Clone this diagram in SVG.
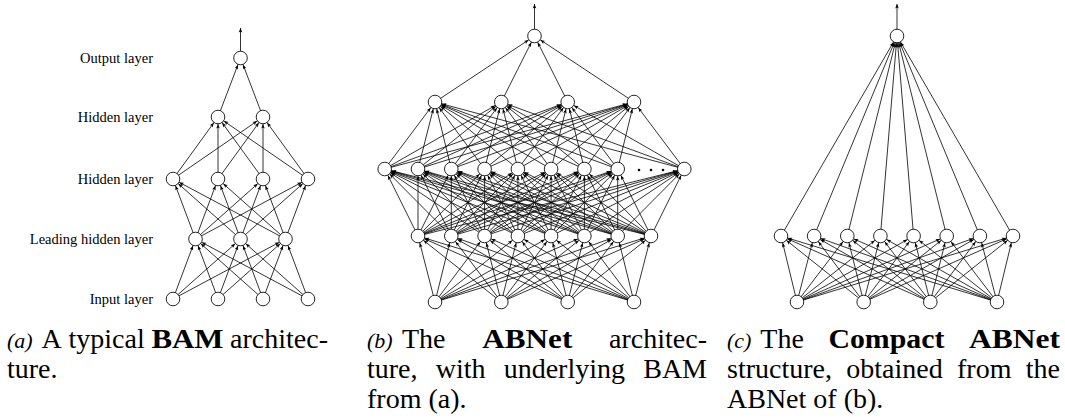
<svg xmlns="http://www.w3.org/2000/svg" width="1065" height="419" viewBox="0 0 1065 419">
<defs>
<style>
.n{fill:#fff;stroke:#000;stroke-width:0.85}
.e line{stroke:#000;stroke-width:0.8}
.lbl{font-family:"Liberation Serif",serif;font-size:14.5px;text-anchor:end;fill:#000}
.cap{font-family:"Liberation Serif",serif;font-size:28px;fill:#000}
.it{font-style:italic;font-size:22px}
.b{font-weight:bold}
.dot{fill:#000}
</style>
<marker id="ah" markerUnits="userSpaceOnUse" markerWidth="20" markerHeight="20" viewBox="-20 -10 20 20" refX="0" refY="0" orient="auto" overflow="visible">
<path d="M-7.2,0 L-11.6,-1.8 L-10.6,0 L-11.6,1.8 z" fill="#000"/>
</marker>
<marker id="tip" markerUnits="userSpaceOnUse" markerWidth="10" markerHeight="10" viewBox="-10 -5 10 10" refX="0" refY="0" orient="auto" overflow="visible">
<path d="M0,0 L-4.4,-1.8 L-3.4,0 L-4.4,1.8 z" fill="#000"/>
</marker>
</defs>
<rect width="1065" height="419" fill="#fff"/>

<g id="connectors" class="e" marker-end="url(#ah)">
<!-- panel a -->
<line x1="240.5" y1="58" x2="240.5" y2="28" marker-end="url(#tip)"/>
<line x1="218" y1="117" x2="240.5" y2="58"/>
<line x1="263" y1="117" x2="240.5" y2="58"/>
<line x1="173" y1="179" x2="218" y2="117"/>
<line x1="173" y1="179" x2="263" y2="117"/>
<line x1="218" y1="179" x2="218" y2="117"/>
<line x1="218" y1="179" x2="263" y2="117"/>
<line x1="263" y1="179" x2="218" y2="117"/>
<line x1="263" y1="179" x2="263" y2="117"/>
<line x1="308" y1="179" x2="218" y2="117"/>
<line x1="308" y1="179" x2="263" y2="117"/>
<line x1="195.5" y1="239" x2="173" y2="179"/>
<line x1="195.5" y1="239" x2="218" y2="179"/>
<line x1="195.5" y1="239" x2="263" y2="179"/>
<line x1="195.5" y1="239" x2="308" y2="179"/>
<line x1="240.5" y1="239" x2="173" y2="179"/>
<line x1="240.5" y1="239" x2="218" y2="179"/>
<line x1="240.5" y1="239" x2="263" y2="179"/>
<line x1="240.5" y1="239" x2="308" y2="179"/>
<line x1="285.5" y1="239" x2="173" y2="179"/>
<line x1="285.5" y1="239" x2="218" y2="179"/>
<line x1="285.5" y1="239" x2="263" y2="179"/>
<line x1="285.5" y1="239" x2="308" y2="179"/>
<line x1="173" y1="299" x2="195.5" y2="239"/>
<line x1="173" y1="299" x2="240.5" y2="239"/>
<line x1="173" y1="299" x2="285.5" y2="239"/>
<line x1="218" y1="299" x2="195.5" y2="239"/>
<line x1="218" y1="299" x2="240.5" y2="239"/>
<line x1="218" y1="299" x2="285.5" y2="239"/>
<line x1="263" y1="299" x2="195.5" y2="239"/>
<line x1="263" y1="299" x2="240.5" y2="239"/>
<line x1="263" y1="299" x2="285.5" y2="239"/>
<line x1="308" y1="299" x2="195.5" y2="239"/>
<line x1="308" y1="299" x2="240.5" y2="239"/>
<line x1="308" y1="299" x2="285.5" y2="239"/>
<!-- panel b -->
<line x1="534.5" y1="36" x2="534.5" y2="4" marker-end="url(#tip)"/>
<line x1="435" y1="102" x2="534.5" y2="36"/>
<line x1="501.3" y1="102" x2="534.5" y2="36"/>
<line x1="567.7" y1="102" x2="534.5" y2="36"/>
<line x1="634" y1="102" x2="534.5" y2="36"/>
<!-- L3 to L4 -->
<line x1="384.7" y1="169" x2="435" y2="102"/>
<line x1="384.7" y1="169" x2="501.3" y2="102"/>
<line x1="384.7" y1="169" x2="567.7" y2="102"/>
<line x1="384.7" y1="169" x2="634" y2="102"/>
<line x1="418" y1="169" x2="435" y2="102"/>
<line x1="418" y1="169" x2="501.3" y2="102"/>
<line x1="418" y1="169" x2="567.7" y2="102"/>
<line x1="418" y1="169" x2="634" y2="102"/>
<line x1="451.3" y1="169" x2="435" y2="102"/>
<line x1="451.3" y1="169" x2="501.3" y2="102"/>
<line x1="451.3" y1="169" x2="567.7" y2="102"/>
<line x1="451.3" y1="169" x2="634" y2="102"/>
<line x1="484.6" y1="169" x2="435" y2="102"/>
<line x1="484.6" y1="169" x2="501.3" y2="102"/>
<line x1="484.6" y1="169" x2="567.7" y2="102"/>
<line x1="484.6" y1="169" x2="634" y2="102"/>
<line x1="517.9" y1="169" x2="435" y2="102"/>
<line x1="517.9" y1="169" x2="501.3" y2="102"/>
<line x1="517.9" y1="169" x2="567.7" y2="102"/>
<line x1="517.9" y1="169" x2="634" y2="102"/>
<line x1="551.1" y1="169" x2="435" y2="102"/>
<line x1="551.1" y1="169" x2="501.3" y2="102"/>
<line x1="551.1" y1="169" x2="567.7" y2="102"/>
<line x1="551.1" y1="169" x2="634" y2="102"/>
<line x1="584.4" y1="169" x2="435" y2="102"/>
<line x1="584.4" y1="169" x2="501.3" y2="102"/>
<line x1="584.4" y1="169" x2="567.7" y2="102"/>
<line x1="584.4" y1="169" x2="634" y2="102"/>
<line x1="617.7" y1="169" x2="435" y2="102"/>
<line x1="617.7" y1="169" x2="501.3" y2="102"/>
<line x1="617.7" y1="169" x2="567.7" y2="102"/>
<line x1="617.7" y1="169" x2="634" y2="102"/>
<line x1="684.3" y1="169" x2="435" y2="102"/>
<line x1="684.3" y1="169" x2="501.3" y2="102"/>
<line x1="684.3" y1="169" x2="567.7" y2="102"/>
<line x1="684.3" y1="169" x2="634" y2="102"/>
<!-- L2 to L3 -->
<line x1="418" y1="236" x2="384.7" y2="169"/>
<line x1="418" y1="236" x2="418" y2="169"/>
<line x1="418" y1="236" x2="451.3" y2="169"/>
<line x1="418" y1="236" x2="484.6" y2="169"/>
<line x1="418" y1="236" x2="517.9" y2="169"/>
<line x1="418" y1="236" x2="551.1" y2="169"/>
<line x1="418" y1="236" x2="584.4" y2="169"/>
<line x1="418" y1="236" x2="617.7" y2="169"/>
<line x1="418" y1="236" x2="684.3" y2="169"/>
<line x1="451.3" y1="236" x2="384.7" y2="169"/>
<line x1="451.3" y1="236" x2="418" y2="169"/>
<line x1="451.3" y1="236" x2="451.3" y2="169"/>
<line x1="451.3" y1="236" x2="484.6" y2="169"/>
<line x1="451.3" y1="236" x2="517.9" y2="169"/>
<line x1="451.3" y1="236" x2="551.1" y2="169"/>
<line x1="451.3" y1="236" x2="584.4" y2="169"/>
<line x1="451.3" y1="236" x2="617.7" y2="169"/>
<line x1="451.3" y1="236" x2="684.3" y2="169"/>
<line x1="484.6" y1="236" x2="384.7" y2="169"/>
<line x1="484.6" y1="236" x2="418" y2="169"/>
<line x1="484.6" y1="236" x2="451.3" y2="169"/>
<line x1="484.6" y1="236" x2="484.6" y2="169"/>
<line x1="484.6" y1="236" x2="517.9" y2="169"/>
<line x1="484.6" y1="236" x2="551.1" y2="169"/>
<line x1="484.6" y1="236" x2="584.4" y2="169"/>
<line x1="484.6" y1="236" x2="617.7" y2="169"/>
<line x1="484.6" y1="236" x2="684.3" y2="169"/>
<line x1="517.9" y1="236" x2="384.7" y2="169"/>
<line x1="517.9" y1="236" x2="418" y2="169"/>
<line x1="517.9" y1="236" x2="451.3" y2="169"/>
<line x1="517.9" y1="236" x2="484.6" y2="169"/>
<line x1="517.9" y1="236" x2="517.9" y2="169"/>
<line x1="517.9" y1="236" x2="551.1" y2="169"/>
<line x1="517.9" y1="236" x2="584.4" y2="169"/>
<line x1="517.9" y1="236" x2="617.7" y2="169"/>
<line x1="517.9" y1="236" x2="684.3" y2="169"/>
<line x1="551.1" y1="236" x2="384.7" y2="169"/>
<line x1="551.1" y1="236" x2="418" y2="169"/>
<line x1="551.1" y1="236" x2="451.3" y2="169"/>
<line x1="551.1" y1="236" x2="484.6" y2="169"/>
<line x1="551.1" y1="236" x2="517.9" y2="169"/>
<line x1="551.1" y1="236" x2="551.1" y2="169"/>
<line x1="551.1" y1="236" x2="584.4" y2="169"/>
<line x1="551.1" y1="236" x2="617.7" y2="169"/>
<line x1="551.1" y1="236" x2="684.3" y2="169"/>
<line x1="584.4" y1="236" x2="384.7" y2="169"/>
<line x1="584.4" y1="236" x2="418" y2="169"/>
<line x1="584.4" y1="236" x2="451.3" y2="169"/>
<line x1="584.4" y1="236" x2="484.6" y2="169"/>
<line x1="584.4" y1="236" x2="517.9" y2="169"/>
<line x1="584.4" y1="236" x2="551.1" y2="169"/>
<line x1="584.4" y1="236" x2="584.4" y2="169"/>
<line x1="584.4" y1="236" x2="617.7" y2="169"/>
<line x1="584.4" y1="236" x2="684.3" y2="169"/>
<line x1="617.7" y1="236" x2="384.7" y2="169"/>
<line x1="617.7" y1="236" x2="418" y2="169"/>
<line x1="617.7" y1="236" x2="451.3" y2="169"/>
<line x1="617.7" y1="236" x2="484.6" y2="169"/>
<line x1="617.7" y1="236" x2="517.9" y2="169"/>
<line x1="617.7" y1="236" x2="551.1" y2="169"/>
<line x1="617.7" y1="236" x2="584.4" y2="169"/>
<line x1="617.7" y1="236" x2="617.7" y2="169"/>
<line x1="617.7" y1="236" x2="684.3" y2="169"/>
<line x1="651" y1="236" x2="384.7" y2="169"/>
<line x1="651" y1="236" x2="418" y2="169"/>
<line x1="651" y1="236" x2="451.3" y2="169"/>
<line x1="651" y1="236" x2="484.6" y2="169"/>
<line x1="651" y1="236" x2="517.9" y2="169"/>
<line x1="651" y1="236" x2="551.1" y2="169"/>
<line x1="651" y1="236" x2="584.4" y2="169"/>
<line x1="651" y1="236" x2="617.7" y2="169"/>
<line x1="651" y1="236" x2="684.3" y2="169"/>
<!-- In to L2 (b) -->
<line x1="435" y1="302" x2="418" y2="236"/>
<line x1="435" y1="302" x2="451.3" y2="236"/>
<line x1="435" y1="302" x2="484.6" y2="236"/>
<line x1="435" y1="302" x2="517.9" y2="236"/>
<line x1="435" y1="302" x2="551.1" y2="236"/>
<line x1="435" y1="302" x2="584.4" y2="236"/>
<line x1="435" y1="302" x2="617.7" y2="236"/>
<line x1="435" y1="302" x2="651" y2="236"/>
<line x1="501.3" y1="302" x2="418" y2="236"/>
<line x1="501.3" y1="302" x2="451.3" y2="236"/>
<line x1="501.3" y1="302" x2="484.6" y2="236"/>
<line x1="501.3" y1="302" x2="517.9" y2="236"/>
<line x1="501.3" y1="302" x2="551.1" y2="236"/>
<line x1="501.3" y1="302" x2="584.4" y2="236"/>
<line x1="501.3" y1="302" x2="617.7" y2="236"/>
<line x1="501.3" y1="302" x2="651" y2="236"/>
<line x1="567.7" y1="302" x2="418" y2="236"/>
<line x1="567.7" y1="302" x2="451.3" y2="236"/>
<line x1="567.7" y1="302" x2="484.6" y2="236"/>
<line x1="567.7" y1="302" x2="517.9" y2="236"/>
<line x1="567.7" y1="302" x2="551.1" y2="236"/>
<line x1="567.7" y1="302" x2="584.4" y2="236"/>
<line x1="567.7" y1="302" x2="617.7" y2="236"/>
<line x1="567.7" y1="302" x2="651" y2="236"/>
<line x1="634" y1="302" x2="418" y2="236"/>
<line x1="634" y1="302" x2="451.3" y2="236"/>
<line x1="634" y1="302" x2="484.6" y2="236"/>
<line x1="634" y1="302" x2="517.9" y2="236"/>
<line x1="634" y1="302" x2="551.1" y2="236"/>
<line x1="634" y1="302" x2="584.4" y2="236"/>
<line x1="634" y1="302" x2="617.7" y2="236"/>
<line x1="634" y1="302" x2="651" y2="236"/>
<!-- panel c -->
<line x1="897" y1="36" x2="897" y2="4" marker-end="url(#tip)"/>
<line x1="781" y1="236" x2="897" y2="36"/>
<line x1="814.1" y1="236" x2="897" y2="36"/>
<line x1="847.3" y1="236" x2="897" y2="36"/>
<line x1="880.4" y1="236" x2="897" y2="36"/>
<line x1="913.6" y1="236" x2="897" y2="36"/>
<line x1="946.7" y1="236" x2="897" y2="36"/>
<line x1="979.9" y1="236" x2="897" y2="36"/>
<line x1="1013" y1="236" x2="897" y2="36"/>
<line x1="797" y1="302" x2="781" y2="236"/>
<line x1="797" y1="302" x2="814.1" y2="236"/>
<line x1="797" y1="302" x2="847.3" y2="236"/>
<line x1="797" y1="302" x2="880.4" y2="236"/>
<line x1="797" y1="302" x2="913.6" y2="236"/>
<line x1="797" y1="302" x2="946.7" y2="236"/>
<line x1="797" y1="302" x2="979.9" y2="236"/>
<line x1="797" y1="302" x2="1013" y2="236"/>
<line x1="863.7" y1="302" x2="781" y2="236"/>
<line x1="863.7" y1="302" x2="814.1" y2="236"/>
<line x1="863.7" y1="302" x2="847.3" y2="236"/>
<line x1="863.7" y1="302" x2="880.4" y2="236"/>
<line x1="863.7" y1="302" x2="913.6" y2="236"/>
<line x1="863.7" y1="302" x2="946.7" y2="236"/>
<line x1="863.7" y1="302" x2="979.9" y2="236"/>
<line x1="863.7" y1="302" x2="1013" y2="236"/>
<line x1="930.3" y1="302" x2="781" y2="236"/>
<line x1="930.3" y1="302" x2="814.1" y2="236"/>
<line x1="930.3" y1="302" x2="847.3" y2="236"/>
<line x1="930.3" y1="302" x2="880.4" y2="236"/>
<line x1="930.3" y1="302" x2="913.6" y2="236"/>
<line x1="930.3" y1="302" x2="946.7" y2="236"/>
<line x1="930.3" y1="302" x2="979.9" y2="236"/>
<line x1="930.3" y1="302" x2="1013" y2="236"/>
<line x1="997" y1="302" x2="781" y2="236"/>
<line x1="997" y1="302" x2="814.1" y2="236"/>
<line x1="997" y1="302" x2="847.3" y2="236"/>
<line x1="997" y1="302" x2="880.4" y2="236"/>
<line x1="997" y1="302" x2="913.6" y2="236"/>
<line x1="997" y1="302" x2="946.7" y2="236"/>
<line x1="997" y1="302" x2="979.9" y2="236"/>
<line x1="997" y1="302" x2="1013" y2="236"/>
</g>

<!-- panel a nodes -->
<g id="a-out"><circle class="n" cx="240.5" cy="58" r="6.8"/></g>
<g id="a-h1-1"><circle class="n" cx="218" cy="117" r="6.8"/></g>
<g id="a-h1-2"><circle class="n" cx="263" cy="117" r="6.8"/></g>
<g id="a-h2-1"><circle class="n" cx="173" cy="179" r="6.8"/></g>
<g id="a-h2-2"><circle class="n" cx="218" cy="179" r="6.8"/></g>
<g id="a-h2-3"><circle class="n" cx="263" cy="179" r="6.8"/></g>
<g id="a-h2-4"><circle class="n" cx="308" cy="179" r="6.8"/></g>
<g id="a-lh-1"><circle class="n" cx="195.5" cy="239" r="6.8"/></g>
<g id="a-lh-2"><circle class="n" cx="240.5" cy="239" r="6.8"/></g>
<g id="a-lh-3"><circle class="n" cx="285.5" cy="239" r="6.8"/></g>
<g id="a-in-1"><circle class="n" cx="173" cy="299" r="6.8"/></g>
<g id="a-in-2"><circle class="n" cx="218" cy="299" r="6.8"/></g>
<g id="a-in-3"><circle class="n" cx="263" cy="299" r="6.8"/></g>
<g id="a-in-4"><circle class="n" cx="308" cy="299" r="6.8"/></g>
<g id="a-labels">
<text class="lbl" x="153" y="63">Output layer</text>
<text class="lbl" x="153" y="122">Hidden layer</text>
<text class="lbl" x="153" y="184">Hidden layer</text>
<text class="lbl" x="153" y="244">Leading hidden layer</text>
<text class="lbl" x="153" y="304">Input layer</text>
</g>

<!-- panel b nodes -->
<g id="b-out"><circle class="n" cx="534.5" cy="36" r="6.8"/></g>
<g id="b-l4-1"><circle class="n" cx="435" cy="102" r="6.8"/></g>
<g id="b-l4-2"><circle class="n" cx="501.3" cy="102" r="6.8"/></g>
<g id="b-l4-3"><circle class="n" cx="567.7" cy="102" r="6.8"/></g>
<g id="b-l4-4"><circle class="n" cx="634" cy="102" r="6.8"/></g>
<g id="b-l3-1"><circle class="n" cx="384.7" cy="169" r="6.8"/></g>
<g id="b-l3-2"><circle class="n" cx="418" cy="169" r="6.8"/></g>
<g id="b-l3-3"><circle class="n" cx="451.3" cy="169" r="6.8"/></g>
<g id="b-l3-4"><circle class="n" cx="484.6" cy="169" r="6.8"/></g>
<g id="b-l3-5"><circle class="n" cx="517.9" cy="169" r="6.8"/></g>
<g id="b-l3-6"><circle class="n" cx="551.1" cy="169" r="6.8"/></g>
<g id="b-l3-7"><circle class="n" cx="584.4" cy="169" r="6.8"/></g>
<g id="b-l3-8"><circle class="n" cx="617.7" cy="169" r="6.8"/></g>
<g id="b-l3-9"><circle class="n" cx="684.3" cy="169" r="6.8"/></g>
<g id="b-dots"><circle class="dot" cx="639" cy="170" r="1.3"/><circle class="dot" cx="651" cy="170" r="1.3"/><circle class="dot" cx="663" cy="170" r="1.3"/></g>
<g id="b-l2-1"><circle class="n" cx="418" cy="236" r="6.8"/></g>
<g id="b-l2-2"><circle class="n" cx="451.3" cy="236" r="6.8"/></g>
<g id="b-l2-3"><circle class="n" cx="484.6" cy="236" r="6.8"/></g>
<g id="b-l2-4"><circle class="n" cx="517.9" cy="236" r="6.8"/></g>
<g id="b-l2-5"><circle class="n" cx="551.1" cy="236" r="6.8"/></g>
<g id="b-l2-6"><circle class="n" cx="584.4" cy="236" r="6.8"/></g>
<g id="b-l2-7"><circle class="n" cx="617.7" cy="236" r="6.8"/></g>
<g id="b-l2-8"><circle class="n" cx="651" cy="236" r="6.8"/></g>
<g id="b-in-1"><circle class="n" cx="435" cy="302" r="6.8"/></g>
<g id="b-in-2"><circle class="n" cx="501.3" cy="302" r="6.8"/></g>
<g id="b-in-3"><circle class="n" cx="567.7" cy="302" r="6.8"/></g>
<g id="b-in-4"><circle class="n" cx="634" cy="302" r="6.8"/></g>

<!-- panel c nodes -->
<g id="c-out"><circle class="n" cx="897" cy="36" r="6.8"/></g>
<g id="c-l2-1"><circle class="n" cx="781" cy="236" r="6.8"/></g>
<g id="c-l2-2"><circle class="n" cx="814.1" cy="236" r="6.8"/></g>
<g id="c-l2-3"><circle class="n" cx="847.3" cy="236" r="6.8"/></g>
<g id="c-l2-4"><circle class="n" cx="880.4" cy="236" r="6.8"/></g>
<g id="c-l2-5"><circle class="n" cx="913.6" cy="236" r="6.8"/></g>
<g id="c-l2-6"><circle class="n" cx="946.7" cy="236" r="6.8"/></g>
<g id="c-l2-7"><circle class="n" cx="979.9" cy="236" r="6.8"/></g>
<g id="c-l2-8"><circle class="n" cx="1013" cy="236" r="6.8"/></g>
<g id="c-in-1"><circle class="n" cx="797" cy="302" r="6.8"/></g>
<g id="c-in-2"><circle class="n" cx="863.7" cy="302" r="6.8"/></g>
<g id="c-in-3"><circle class="n" cx="930.3" cy="302" r="6.8"/></g>
<g id="c-in-4"><circle class="n" cx="997" cy="302" r="6.8"/></g>

<!-- captions -->
<g id="cap-a" class="cap">
<text x="7" y="348" class="it">(a)</text>
<text x="41.6" y="348">A</text>
<text x="68.5" y="348">typical</text>
<text x="151.4" y="348" class="b" textLength="72" lengthAdjust="spacingAndGlyphs">BAM</text>
<text x="328" y="348" text-anchor="end">architec-</text>
<text x="7" y="378">ture.</text>
</g>
<g id="cap-b" class="cap">
<text x="367" y="348" class="it">(b)</text>
<text x="402" y="348">The</text>
<text x="482.3" y="348" class="b" textLength="90" lengthAdjust="spacingAndGlyphs">ABNet</text>
<text x="707" y="348" text-anchor="end">architec-</text>
<text x="367" y="378">ture,</text>
<text x="435.7" y="378">with</text>
<text x="503.7" y="378">underlying</text>
<text x="707" y="378" text-anchor="end">BAM</text>
<text x="367" y="408">from (a).</text>
</g>
<g id="cap-c" class="cap">
<text x="727" y="348" class="it">(c)</text>
<text x="760.3" y="348">The</text>
<text x="828.4" y="348" class="b" textLength="116" lengthAdjust="spacingAndGlyphs">Compact</text>
<text x="969" y="348" class="b" textLength="91" lengthAdjust="spacingAndGlyphs">ABNet</text>
<text x="727" y="378">structure,</text>
<text x="846.3" y="378">obtained</text>
<text x="957" y="378">from</text>
<text x="1060" y="378" text-anchor="end">the</text>
<text x="727" y="408">ABNet of (b).</text>
</g>
</svg>
